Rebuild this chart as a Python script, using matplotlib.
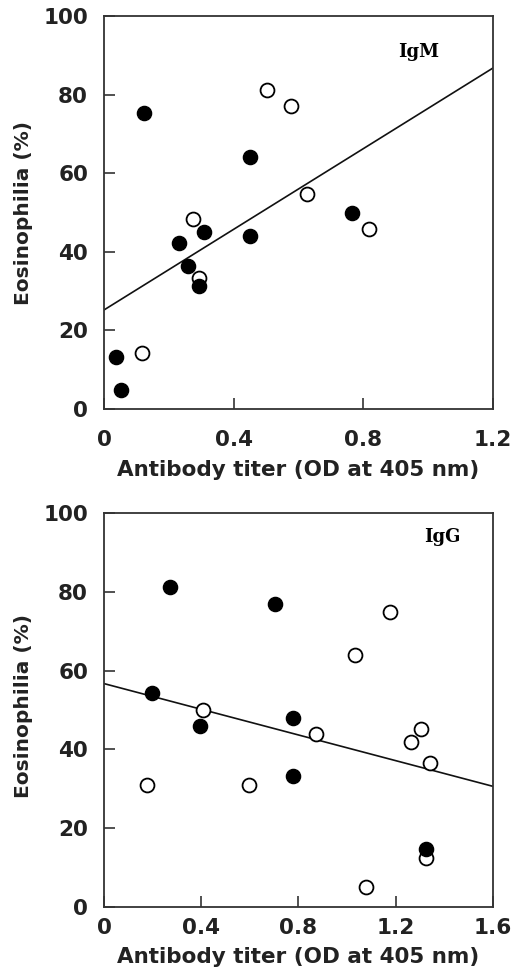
import matplotlib
matplotlib.use('Agg')
import matplotlib.pyplot as plt
import numpy as np

# IgM panel
igm_filled_x = [0.037, 0.054, 0.125, 0.232, 0.258, 0.292, 0.308, 0.450, 0.452, 0.764]
igm_filled_y = [13.2, 4.9, 75.2, 42.3, 36.4, 31.2, 45.1, 64.0, 44.1, 49.8]
igm_open_x = [0.116, 0.276, 0.293, 0.503, 0.577, 0.625, 0.817]
igm_open_y = [14.2, 48.3, 33.4, 81.1, 77.1, 54.8, 45.9]
igm_fit = (25.2, 51.3)  # intercept, slope

# IgG panel
igg_filled_x = [0.196, 0.271, 0.395, 0.704, 0.778, 0.778, 1.326]
igg_filled_y = [54.3, 81.2, 45.9, 77.0, 47.9, 33.2, 14.6]
igg_open_x = [0.179, 0.408, 0.595, 0.871, 1.034, 1.077, 1.175, 1.264, 1.303, 1.323, 1.340]
igg_open_y = [30.9, 49.9, 30.9, 43.9, 64.0, 5.1, 74.8, 42.0, 45.2, 12.4, 36.5]
igg_fit = (56.7, -16.3)

panels = [
    dict(fx=igm_filled_x, fy=igm_filled_y, ox=igm_open_x, oy=igm_open_y,
         fit=igm_fit, xmax=1.2, xticks=[0, 0.4, 0.8, 1.2], label='IgM',
         rect=[0.1973, 0.5779, 0.7381, 0.4056], xpad=15, xlab_y=-0.155,
         ylab_y=0.50, tag_xy=(0.81, 0.908)),
    dict(fx=igg_filled_x, fy=igg_filled_y, ox=igg_open_x, oy=igg_open_y,
         fit=igg_fit, xmax=1.6, xticks=[0, 0.4, 0.8, 1.2, 1.6], label='IgG',
         rect=[0.1973, 0.0640, 0.7381, 0.4066], xpad=8, xlab_y=-0.127,
         ylab_y=0.51, tag_xy=(0.869, 0.939)),
]

fig = plt.figure(figsize=(5.27, 9.69), dpi=100)
spine_col = '#333333'
text_col = '#222222'

for p in panels:
    ax = fig.add_axes(p['rect'])
    xs = np.array([0, p['xmax']])
    b0, b1 = p['fit']
    ax.plot(xs, b0 + b1 * xs, color='#111111', lw=1.2, zorder=2)
    ax.plot(p['ox'], p['oy'], 'o', ms=10, mfc='white', mec='black', mew=1.3, zorder=3)
    ax.plot(p['fx'], p['fy'], 'o', ms=10.2, mfc='black', mec='black', zorder=4)
    ax.set_xlim(0, p['xmax'])
    ax.set_ylim(0, 100)
    ax.set_xticks(p['xticks'])
    ax.set_xticklabels(['0' if t == 0 else f'{t:.1f}' for t in p['xticks']])
    ax.set_yticks([0, 20, 40, 60, 80, 100])
    ax.tick_params(direction='in', length=8, width=1.2, color=spine_col,
                   labelsize=15.5, top=False, right=False)
    ax.tick_params(axis='x', pad=p['xpad'])
    ax.tick_params(axis='y', pad=11.5)
    for lab in ax.get_xticklabels() + ax.get_yticklabels():
        lab.set_fontweight('bold')
        lab.set_color(text_col)
    for s in ax.spines.values():
        s.set_linewidth(1.3)
        s.set_color(spine_col)
    ax.set_xlabel('Antibody titer (OD at 405 nm)', fontsize=15.5, fontweight='bold',
                  color=text_col, va='center')
    ax.xaxis.set_label_coords(0.5, p['xlab_y'])
    ax.set_ylabel('Eosinophilia (%)', fontsize=14.5, fontweight='bold',
                  color=text_col, va='center')
    ax.yaxis.set_label_coords(-0.208, p['ylab_y'])
    ax.text(p['tag_xy'][0], p['tag_xy'][1], p['label'], transform=ax.transAxes,
            ha='center', va='center', fontsize=13, fontweight='bold',
            family='DejaVu Serif')

fig.savefig('out.png', dpi=100)
